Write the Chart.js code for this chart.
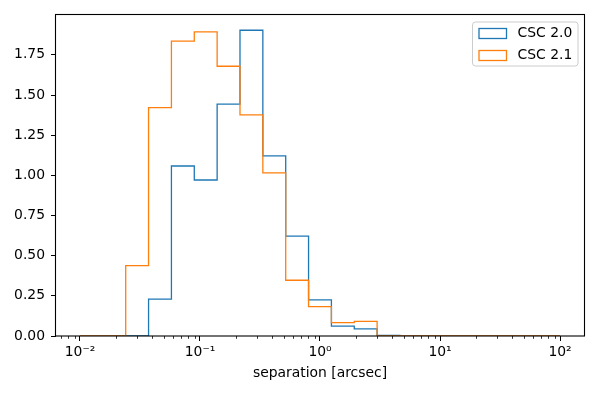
<!DOCTYPE html>
<html><head><meta charset="utf-8">
<script src="https://cdn.jsdelivr.net/npm/chart.js@4.4.1/dist/chart.umd.min.js"></script>
<style>html,body{margin:0;padding:0;background:#fff}</style>
</head><body>
<canvas id="c" width="600" height="400"></canvas>
<script>
// bin edges (log-spaced, 0.01 .. 100, 21 bins)
const binEdges = [0.01, 0.0155048, 0.0240399, 0.0372734, 0.0577917, 0.0896054, 0.138932, 0.215411,
  0.333991, 0.517845, 0.802908, 1.24489, 1.93018, 2.99273, 4.64016, 7.19449, 11.1549, 17.2956,
  26.8163, 41.5781, 64.4660, 100];
// density per bin
const csc20 = [0, 0, 0, 0.230, 1.058, 0.971, 1.443, 1.903, 1.121, 0.622, 0.225, 0.062, 0.044, 0.004, 0, 0, 0, 0, 0, 0, 0];
const csc21 = [0, 0, 0.438, 1.421, 1.835, 1.893, 1.679, 1.376, 1.015, 0.347, 0.183, 0.083, 0.091, 0, 0, 0, 0, 0, 0, 0, 0];
const seriesLabels = ['CSC 2.0', 'CSC 2.1'];
const seriesColors = ['#1f77b4', '#ff7f0e'];
const xTickValues = [0.01, 0.1, 1, 10, 100];
const xTickLabels = ['10\u207B\u00B2', '10\u207B\u00B9', '10\u2070', '10\u00B9', '10\u00B2'];
const yTickValues = [0, 0.25, 0.5, 0.75, 1.0, 1.25, 1.5, 1.75];
const yTickLabels = ['0.00', '0.25', '0.50', '0.75', '1.00', '1.25', '1.50', '1.75'];
const xLabel = 'separation [arcsec]';
const xMin = 0.0063096, xMax = 158.489;
const yMin = 0, yMax = 1.998;

const FONT = 'DejaVu Sans';
const FS = 13.9;

function stepPoints(vals) {
  return binEdges.map((e, i) => ({ x: e, y: i < vals.length ? vals[i] : 0 }));
}

const minorTicks = [];
for (let d = -3; d <= 2; d++) {
  for (let m = 2; m <= 9; m++) {
    const v = m * Math.pow(10, d);
    if (v > xMin && v < xMax) minorTicks.push(v);
  }
}

const decor = {
  id: 'decor',
  afterDraw(chart) {
    const ctx = chart.ctx, ca = chart.chartArea, xs = chart.scales.x;
    ctx.save();
    // minor ticks
    ctx.strokeStyle = '#000';
    ctx.lineWidth = 0.8;
    minorTicks.forEach(v => {
      const px = Math.round(xs.getPixelForValue(v)) + 0.5;
      ctx.beginPath(); ctx.moveTo(px, ca.bottom); ctx.lineTo(px, ca.bottom + 2.8); ctx.stroke();
    });
    // frame (spines)
    ctx.lineWidth = 1.1;
    ctx.strokeStyle = '#000';
    ctx.strokeRect(ca.left - 0.5, ca.top - 0.5, ca.right - ca.left + 1, ca.bottom - ca.top + 0.5);
    // legend
    const lx = ca.right - 112, ly = ca.top + 6.5, lw = 105.5, lh = 44;
    ctx.beginPath();
    ctx.roundRect(lx + 0.5, ly + 0.5, lw, lh, 3);
    ctx.fillStyle = 'rgba(255,255,255,0.8)';
    ctx.fill();
    ctx.strokeStyle = '#cccccc';
    ctx.lineWidth = 1;
    ctx.stroke();
    ctx.font = FS + 'px "' + FONT + '"';
    ctx.textBaseline = 'middle';
    ctx.textAlign = 'left';
    chart.data.datasets.forEach((ds, i) => {
      const cy = ly + 12 + i * 22;
      ctx.strokeStyle = ds.borderColor;
      ctx.lineWidth = 1.3;
      ctx.strokeRect(lx + 7, cy - 5, 27.5, 10);
      ctx.fillStyle = '#000';
      ctx.fillText(ds.label, lx + 45.5, cy);
    });
    ctx.restore();
  }
};

new Chart(document.getElementById('c'), {
  type: 'line',
  data: {
    datasets: [
      { label: seriesLabels[0], data: stepPoints(csc20), borderColor: seriesColors[0], borderWidth: 1.3,
        stepped: 'before', pointRadius: 0, fill: false, order: 2 },
      { label: seriesLabels[1], data: stepPoints(csc21), borderColor: seriesColors[1], borderWidth: 1.3,
        stepped: 'before', pointRadius: 0, fill: false, order: 1 }
    ]
  },
  options: {
    responsive: false,
    animation: false,
    devicePixelRatio: 1,
    layout: { padding: { left: 0, right: 16, top: 15, bottom: 0 } },
    plugins: { legend: { display: false }, tooltip: { enabled: false } },
    scales: {
      x: {
        type: 'logarithmic', min: xMin, max: xMax,
        afterBuildTicks: s => { s.ticks = xTickValues.map(v => ({ value: v, major: true })); },
        afterFit: s => { s.height = 64; },
        ticks: {
          autoSkip: false, maxRotation: 0, padding: 3, color: '#000',
          font: { family: FONT, size: FS },
          callback: v => { const i = xTickValues.indexOf(v); return i >= 0 ? xTickLabels[i] : ''; }
        },
        grid: { drawOnChartArea: false, drawTicks: true, tickLength: 5, tickColor: '#000', tickWidth: 1 },
        border: { display: false },
        title: { display: true, text: xLabel, color: '#000', font: { family: FONT, size: FS }, padding: { top: 0, bottom: 18 } }
      },
      y: {
        type: 'linear', min: yMin, max: yMax,
        afterBuildTicks: s => { s.ticks = yTickValues.map(v => ({ value: v })); },
        afterFit: s => { s.width = 56; },
        ticks: {
          autoSkip: false, padding: 6, color: '#000',
          font: { family: FONT, size: FS },
          callback: v => { const i = yTickValues.indexOf(v); return i >= 0 ? yTickLabels[i] : ''; }
        },
        grid: { drawOnChartArea: false, drawTicks: true, tickLength: 5, tickColor: '#000', tickWidth: 1 },
        border: { display: false }
      }
    }
  },
  plugins: [decor]
});
</script>
</body></html>
